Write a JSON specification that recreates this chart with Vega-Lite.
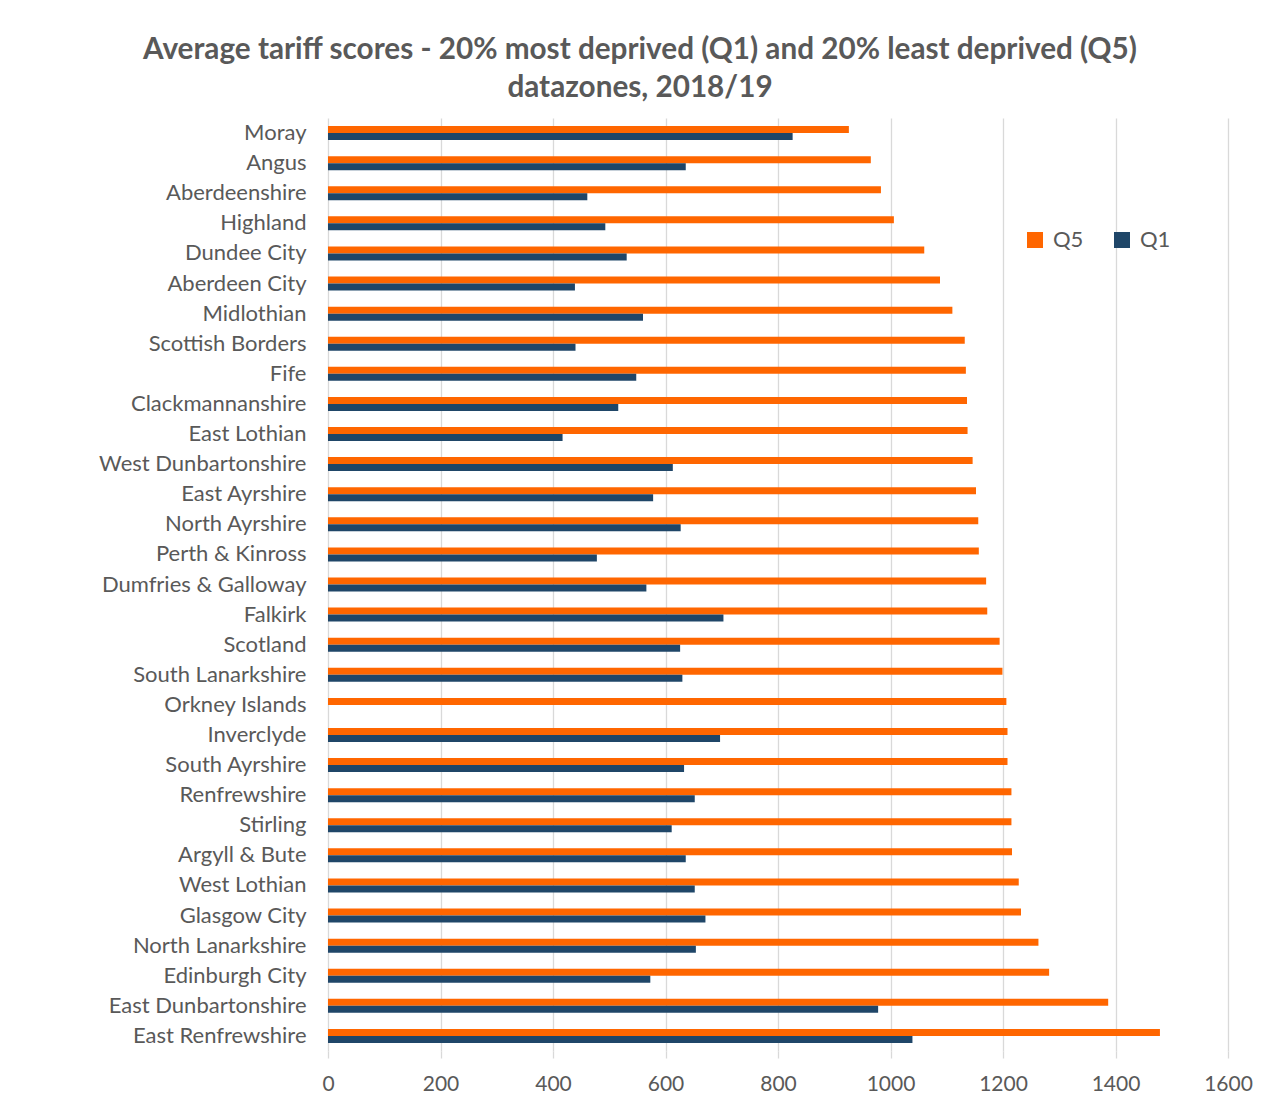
{
  "$schema": "https://vega.github.io/schema/vega-lite/v6.json",
  "autosize": "none",
  "width": 900,
  "height": 933,
  "padding": {"left": 328, "top": 118, "right": 43, "bottom": 55},
  "background": "white",
  "title": {
    "text": ["Average tariff scores - 20% most deprived (Q1) and 20% least deprived (Q5)", "datazones, 2018/19"],
    "font": "Lato",
    "fontSize": 29.7,
    "fontWeight": "bold",
    "color": "#595959",
    "lineHeight": 38,
    "anchor": "middle",
    "dx": -138,
    "offset": 14
  },
  "datasets": {
    "scores": [
      {"area": "Moray", "q": "Q5", "value": 926}, {"area": "Moray", "q": "Q1", "value": 826},
      {"area": "Angus", "q": "Q5", "value": 965}, {"area": "Angus", "q": "Q1", "value": 636},
      {"area": "Aberdeenshire", "q": "Q5", "value": 983}, {"area": "Aberdeenshire", "q": "Q1", "value": 461},
      {"area": "Highland", "q": "Q5", "value": 1006}, {"area": "Highland", "q": "Q1", "value": 493},
      {"area": "Dundee City", "q": "Q5", "value": 1060}, {"area": "Dundee City", "q": "Q1", "value": 531},
      {"area": "Aberdeen City", "q": "Q5", "value": 1088}, {"area": "Aberdeen City", "q": "Q1", "value": 439},
      {"area": "Midlothian", "q": "Q5", "value": 1110}, {"area": "Midlothian", "q": "Q1", "value": 560},
      {"area": "Scottish Borders", "q": "Q5", "value": 1132}, {"area": "Scottish Borders", "q": "Q1", "value": 440},
      {"area": "Fife", "q": "Q5", "value": 1134}, {"area": "Fife", "q": "Q1", "value": 548},
      {"area": "Clackmannanshire", "q": "Q5", "value": 1136}, {"area": "Clackmannanshire", "q": "Q1", "value": 516},
      {"area": "East Lothian", "q": "Q5", "value": 1137}, {"area": "East Lothian", "q": "Q1", "value": 417},
      {"area": "West Dunbartonshire", "q": "Q5", "value": 1146}, {"area": "West Dunbartonshire", "q": "Q1", "value": 613},
      {"area": "East Ayrshire", "q": "Q5", "value": 1152}, {"area": "East Ayrshire", "q": "Q1", "value": 578},
      {"area": "North Ayrshire", "q": "Q5", "value": 1156}, {"area": "North Ayrshire", "q": "Q1", "value": 627},
      {"area": "Perth & Kinross", "q": "Q5", "value": 1157}, {"area": "Perth & Kinross", "q": "Q1", "value": 478},
      {"area": "Dumfries & Galloway", "q": "Q5", "value": 1170}, {"area": "Dumfries & Galloway", "q": "Q1", "value": 566},
      {"area": "Falkirk", "q": "Q5", "value": 1172}, {"area": "Falkirk", "q": "Q1", "value": 703},
      {"area": "Scotland", "q": "Q5", "value": 1194}, {"area": "Scotland", "q": "Q1", "value": 626},
      {"area": "South Lanarkshire", "q": "Q5", "value": 1199}, {"area": "South Lanarkshire", "q": "Q1", "value": 630},
      {"area": "Orkney Islands", "q": "Q5", "value": 1206},
      {"area": "Inverclyde", "q": "Q5", "value": 1208}, {"area": "Inverclyde", "q": "Q1", "value": 697},
      {"area": "South Ayrshire", "q": "Q5", "value": 1208}, {"area": "South Ayrshire", "q": "Q1", "value": 633},
      {"area": "Renfrewshire", "q": "Q5", "value": 1215}, {"area": "Renfrewshire", "q": "Q1", "value": 652},
      {"area": "Stirling", "q": "Q5", "value": 1215}, {"area": "Stirling", "q": "Q1", "value": 611},
      {"area": "Argyll & Bute", "q": "Q5", "value": 1216}, {"area": "Argyll & Bute", "q": "Q1", "value": 636},
      {"area": "West Lothian", "q": "Q5", "value": 1228}, {"area": "West Lothian", "q": "Q1", "value": 652},
      {"area": "Glasgow City", "q": "Q5", "value": 1232}, {"area": "Glasgow City", "q": "Q1", "value": 671},
      {"area": "North Lanarkshire", "q": "Q5", "value": 1263}, {"area": "North Lanarkshire", "q": "Q1", "value": 654},
      {"area": "Edinburgh City", "q": "Q5", "value": 1282}, {"area": "Edinburgh City", "q": "Q1", "value": 573},
      {"area": "East Dunbartonshire", "q": "Q5", "value": 1387}, {"area": "East Dunbartonshire", "q": "Q1", "value": 978},
      {"area": "East Renfrewshire", "q": "Q5", "value": 1479}, {"area": "East Renfrewshire", "q": "Q1", "value": 1039}
    ]
  },
  "data": {"name": "scores"},
  "mark": {"type": "bar"},
  "encoding": {
    "y": {
      "field": "area",
      "type": "nominal",
      "sort": null,
      "scale": {"paddingInner": 0.535, "paddingOuter": 0.2675},
      "axis": {
        "title": null,
        "domain": false,
        "ticks": false,
        "labelFont": "Lato",
        "labelFontSize": 22,
        "labelColor": "#595959",
        "labelPadding": 22,
        "labelLimit": 400
      }
    },
    "yOffset": {
      "field": "q",
      "type": "nominal",
      "scale": {"domain": ["Q5", "Q1"], "paddingInner": 0, "paddingOuter": 0}
    },
    "x": {
      "field": "value",
      "type": "quantitative",
      "scale": {"domain": [0, 1600], "nice": false},
      "axis": {
        "title": null,
        "values": [0, 200, 400, 600, 800, 1000, 1200, 1400, 1600],
        "format": "d",
        "labelFlush": false,
        "domain": false,
        "grid": true,
        "gridColor": "#D9D9D9",
        "gridWidth": 1.3,
        "ticks": true,
        "tickColor": "#D9D9D9",
        "tickSize": 7,
        "tickWidth": 1.3,
        "labelFont": "Lato",
        "labelFontSize": 21,
        "labelColor": "#595959",
        "labelPadding": 15
      }
    },
    "color": {
      "field": "q",
      "type": "nominal",
      "scale": {"domain": ["Q5", "Q1"], "range": ["#FF6600", "#1F4668"]},
      "legend": {
        "title": null,
        "orient": "none",
        "legendX": 696,
        "legendY": 111,
        "direction": "horizontal",
        "symbolType": "square",
        "symbolSize": 256,
        "symbolStrokeWidth": 0,
        "labelFont": "Lato",
        "labelFontSize": 22,
        "labelColor": "#595959",
        "labelOffset": 7,
        "columnPadding": 27
      }
    }
  },
  "config": {"view": {"stroke": null}}
}
